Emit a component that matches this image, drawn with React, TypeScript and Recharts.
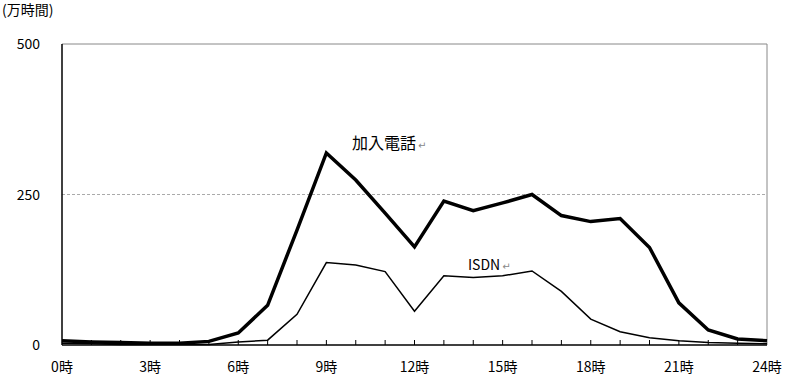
import React from "react";
import { LineChart, Line, XAxis, YAxis, ReferenceLine, ReferenceDot } from "recharts";

const hours = [0, 1, 2, 3, 4, 5, 6, 7, 8, 9, 10, 11, 12, 13, 14, 15, 16, 17, 18, 19, 20, 21, 22, 23, 24];
const subscriberPhone = [7, 5, 4, 3, 3, 6, 20, 66, 191, 319, 274, 219, 163, 239, 223, 236, 250, 215, 205, 210, 162, 70, 25, 10, 7];
const isdn = [3, 2, 1, 1, 1, 1, 5, 8, 51, 137, 133, 122, 56, 115, 112, 115, 123, 89, 43, 22, 12, 7, 4, 3, 2];
const yTicks = [0, 250, 500];
const labeledHours = [0, 3, 6, 9, 12, 15, 18, 21, 24];

const data = hours.map((h, i) => ({ hour: h, phone: subscriberPhone[i], isdn: isdn[i] }));

const FONT = "'Noto Sans CJK JP', 'DejaVu Sans', sans-serif";

function HourTick(props: any) {
  const { x, y, payload } = props;
  const v = payload.value;
  return (
    <g>
      {v > 0 && v < 24 && <line x1={x} y1={y} x2={x} y2={y - 5} stroke="#000" strokeWidth={1} />}
      {labeledHours.includes(v) && (
        <text x={x} y={y + 27} textAnchor="middle" fontSize={14} fontFamily={FONT} fill="#000">
          {v + "時"}
        </text>
      )}
    </g>
  );
}

function ValueTick(props: any) {
  const { x, y, payload } = props;
  return (
    <text x={x - 20} y={y + 5} textAnchor="end" fontSize={14} fontFamily={FONT} fill="#000">
      {payload.value}
    </text>
  );
}

function SeriesLabel(text: string, size: number) {
  return (props: any) => {
    const { cx, cy } = props;
    return (
      <g>
        <text x={cx} y={cy + 6} fontSize={size} fontFamily={FONT} fill="#000">
          {text}
          <tspan fontSize={10} fill="#888" dx={2}>↵</tspan>
        </text>
      </g>
    );
  };
}

export default function App() {
  return (
    <div style={{ position: "absolute", left: 0, top: 0, width: 785, height: 375, background: "#fff" }}>
      <LineChart width={785} height={375} data={data} margin={{ top: 44, right: 18, bottom: 0, left: 0 }}>
        <text x={2} y={15} fontSize={14} fontFamily={FONT} fill="#000">
          (万時間)
        </text>
        <XAxis
          dataKey="hour"
          type="number"
          domain={[0, 24]}
          ticks={hours}
          interval={0}
          tickLine={false}
          tickSize={0}
          tickMargin={0}
          height={30}
          axisLine={{ stroke: "#000", strokeWidth: 1.5 }}
          tick={<HourTick />}
        />
        <YAxis
          type="number"
          domain={[0, 500]}
          ticks={yTicks}
          interval={0}
          width={62}
          tickLine={false}
          tickSize={0}
          axisLine={{ stroke: "#000", strokeWidth: 1.5 }}
          tick={<ValueTick />}
        />
        <ReferenceLine y={250} stroke="#aaa" strokeDasharray="3 2" />
        <ReferenceLine y={500} stroke="#888" />
        <ReferenceLine x={24} stroke="#888" />
        <Line
          dataKey="isdn"
          stroke="#000"
          strokeWidth={1.5}
          dot={false}
          isAnimationActive={false}
          type="linear"
        />
        <Line
          dataKey="phone"
          stroke="#000"
          strokeWidth={3.5}
          dot={false}
          isAnimationActive={false}
          type="linear"
        />
        <ReferenceDot x={9.87} y={335} r={0} fill="none" stroke="none" shape={SeriesLabel("加入電話", 16)} />
        <ReferenceDot x={13.82} y={134} r={0} fill="none" stroke="none" shape={SeriesLabel("ISDN", 14)} />
      </LineChart>
    </div>
  );
}
